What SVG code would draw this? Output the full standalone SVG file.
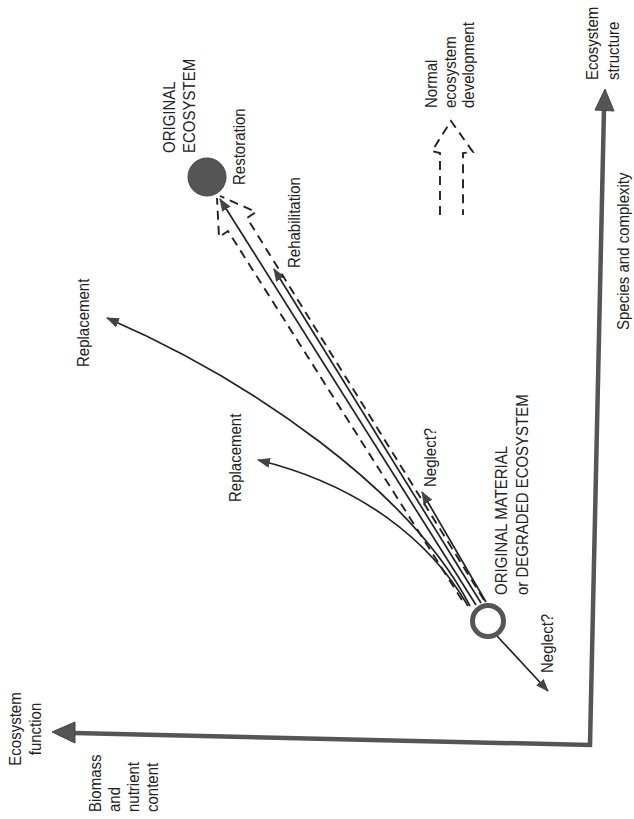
<svg xmlns="http://www.w3.org/2000/svg" width="634" height="819" viewBox="0 0 634 819">
<style>
  text { font-family: "Liberation Sans", Arial, sans-serif; font-size: 15px; fill: #222; }
  .thin { fill: none; stroke: #222; stroke-width: 1.7; }
  .dash { fill: none; stroke: #222; stroke-width: 1.9; stroke-dasharray: 9 6; }
  .axis { fill: none; stroke: #555; stroke-width: 4.5; stroke-linejoin: miter; }
  .axhead { fill: #555; stroke: #444; stroke-width: 1; }
</style>
<defs>
  <marker id="ah" viewBox="0 0 13 10" refX="12" refY="5" markerWidth="13" markerHeight="10" orient="auto" markerUnits="userSpaceOnUse">
    <path d="M0,0 L13,5 L0,10 z" fill="#444"/>
  </marker>
</defs>

<g id="axes">
  <polyline class="axis" points="604,108 590,745 74,733"/>
  <path class="axhead" d="M605,89 L614,111 L595,110 z"/>
  <path class="axhead" d="M52,732 L75,722 L75,743 z"/>
  <text transform="translate(598,80) rotate(-90) scale(1,1.15)">Ecosystem</text>
  <text transform="translate(619,80) rotate(-90) scale(1,1.15)">structure</text>
  <text transform="translate(629,330) rotate(-90) scale(1,1.15)">Species and complexity</text>
  <text transform="translate(21,729) rotate(-90) scale(1,1.15)" text-anchor="middle">Ecosystem</text>
  <text transform="translate(41,729) rotate(-90) scale(1,1.15)" text-anchor="middle">function</text>
  <text transform="translate(101,812) rotate(-90) scale(1,1.15)">Biomass</text>
  <text transform="translate(120,812) rotate(-90) scale(1,1.15)">and</text>
  <text transform="translate(139,812) rotate(-90) scale(1,1.15)">nutrient</text>
  <text transform="translate(158,812) rotate(-90) scale(1,1.15)">content</text>
</g>

<g id="connectors">
  <path class="thin" d="M476,605 L220,199" marker-end="url(#ah)"/>
  <path class="thin" d="M481,603 L274,269" marker-end="url(#ah)"/>
  <path class="thin" d="M486,602 L422,492" marker-end="url(#ah)"/>
  <path class="thin" d="M470,606 C410,490 250,380 107,318" marker-end="url(#ah)"/>
  <path class="thin" d="M468,606 C430,540 360,485 258,460" marker-end="url(#ah)"/>
  <path class="thin" d="M497,636 L548,691" marker-end="url(#ah)"/>
  <path class="dash" d="M462,600 L228,231 L219,237 L217,198"/>
  <path class="dash" d="M484,600 L247,218 L256,212 L220,196"/>
</g>

<g id="legend">
  <path class="dash" d="M440,215 L440,153 L432,151 L451,121 L473,152 L463,153 L463,215"/>
  <text transform="translate(437,108) rotate(-90) scale(1,1.15)">Normal</text>
  <text transform="translate(455.5,108) rotate(-90) scale(1,1.15)">ecosystem</text>
  <text transform="translate(474,108) rotate(-90) scale(1,1.15)">development</text>
</g>

<g id="original-ecosystem">
  <circle cx="207" cy="177" r="19" fill="#555" stroke="#444" stroke-width="1"/>
  <text transform="translate(175,153) rotate(-90) scale(1,1.15)">ORIGINAL</text>
  <text transform="translate(195,153) rotate(-90) scale(1,1.15)">ECOSYSTEM</text>
</g>

<g id="degraded-ecosystem">
  <circle cx="488" cy="621" r="15.5" fill="#fff" stroke="#555" stroke-width="5"/>
  <text transform="translate(507,595) rotate(-90) scale(1,1.15)">ORIGINAL MATERIAL</text>
  <text transform="translate(528,595) rotate(-90) scale(1,1.15)">or DEGRADED ECOSYSTEM</text>
</g>

<g id="labels">
  <text transform="translate(245,185) rotate(-90) scale(1,1.15)">Restoration</text>
  <text transform="translate(300,268) rotate(-90) scale(1,1.15)">Rehabilitation</text>
  <text transform="translate(89,367) rotate(-90) scale(1,1.15)">Replacement</text>
  <text transform="translate(241,502) rotate(-90) scale(1,1.15)">Replacement</text>
  <text transform="translate(436,487) rotate(-90) scale(1,1.15)">Neglect?</text>
  <text transform="translate(553,673) rotate(-90) scale(1,1.15)">Neglect?</text>
</g>
</svg>
